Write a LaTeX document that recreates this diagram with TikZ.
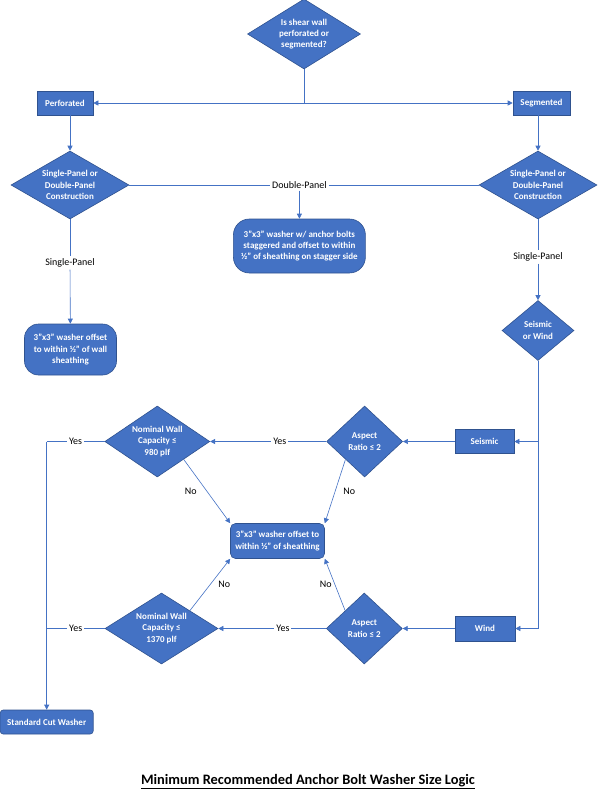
\documentclass[tikz,border=0pt]{standalone}
\usepackage{fontspec}
\setmainfont{Carlito}
\usetikzlibrary{shapes.geometric,arrows.meta}
\definecolor{ofblue}{HTML}{4472C4}
\definecolor{ofedge}{HTML}{2F528F}

\begin{document}
\begin{tikzpicture}[x=1pt,y=-1pt,
		blk/.style={fill=ofblue, draw=ofedge, line width=0.6pt, text=white, align=center, inner sep=0pt,
			font=\fontsize{9}{11.3}\selectfont\bfseries},
		dec/.style={blk, diamond, aspect=#1},
		lbl/.style={fill=white, inner sep=2pt, font=\fontsize{10}{11}\selectfont},
		link/.style={draw=ofblue, line width=0.6pt},
		arr/.style={link, -{Triangle[length=5pt,width=5pt]}}]
	\useasboundingbox (0,0) rectangle (598,800);
	\node[dec=1.6, minimum width=113, minimum height=70] (q0) at (304,34) {Is shear wall\\perforated or\\segmented?};
	\node[blk, minimum width=56, minimum height=24] (perf) at (65,103) {Perforated};
	\node[blk, minimum width=57, minimum height=24] (segm) at (541.5,103) {Segmented};
	\node[dec=1.74, minimum width=118, minimum height=68] (cons1) at (70,185) {Single-Panel or\\Double-Panel\\Construction};
	\node[dec=1.74, minimum width=118, minimum height=68] (cons2) at (538,185) {Single-Panel or\\Double-Panel\\Construction};
	\node[lbl] (dbl) at (299.4,185) {Double-Panel};
	\node[blk, rounded corners=16, minimum width=132, minimum height=54] (wash2) at (299.4,246)
		{3”x3” washer w/ anchor bolts\\staggered and offset to within\\½” of sheathing on stagger side};
	\node[lbl] (sgl1) at (70,263) {Single-Panel};
	\node[blk, rounded corners=14, minimum width=92, minimum height=51] (wash1) at (70.5,349.5)
		{3”x3” washer offset\\to within ½” of wall\\sheathing};
	\node[lbl] (sgl2) at (538,257) {Single-Panel};
	\node[dec=1.2, minimum width=72, minimum height=60] (sw) at (538,330.5) {Seismic\\or Wind};
	\node[blk, minimum width=59, minimum height=24] (seis) at (484.5,441.5) {Seismic};
	\node[dec=1.07, minimum width=76, minimum height=71] (asp1) at (364.6,441.5) {Aspect\\Ratio ≤ 2};
	\node[dec=1.48, minimum width=105, minimum height=71] (nom1) at (157.3,441.5) {Nominal Wall\\Capacity ≤\\980 plf};
	\node[blk, rounded corners=5, minimum width=94, minimum height=35] (res) at (277.5,541)
		{3”x3” washer offset to\\within ½” of sheathing};
	\node[blk, minimum width=60, minimum height=25] (wind) at (485,628.5) {Wind};
	\node[dec=1.07, minimum width=76, minimum height=71] (asp2) at (364.3,628.5) {Aspect\\Ratio ≤ 2};
	\node[dec=1.59, minimum width=113, minimum height=71] (nom2) at (161.5,628.5) {Nominal Wall\\Capacity ≤\\1370 plf};
	\node[blk, rounded corners=3, minimum width=93, minimum height=24] (std) at (46.7,722) {Standard Cut Washer};
	\node[font=\fontsize{14.4}{17}\selectfont\bfseries] (title) at (308,781.5)
		{\underline{Minimum Recommended Anchor Bolt Washer Size Logic}};

	\draw[link] (q0.south) -- (q0.south |- perf.east) coordinate (fork);
	\draw[arr] (fork) -- (perf.east);
	\draw[arr] (fork) -- (segm.west);
	\draw[arr] (perf.south -| cons1.north) -- (cons1.north);
	\draw[arr] (segm.south -| cons2.north) -- (cons2.north);
	\draw[link] (cons1.east) -- (dbl) -- (cons2.west);
	\draw[arr] (dbl) -- (wash2);
	\draw[link] (cons1.south) -- (sgl1);
	\draw[arr] (sgl1) -- (wash1);
	\draw[link] (cons2.south) -- (sgl2);
	\draw[arr] (sgl2) -- (sw);
	\foreach \b/\a/\n in {seis/asp1/nom1, wind/asp2/nom2} {
		\draw[arr] (sw.south) |- (\b.east);
		\draw[arr] (\b) -- (\a);
		\draw[arr] (\a) -- node[lbl, pos=0.4] {Yes} (\n);
		\draw[link] (\n.west) -- node[lbl] {Yes} (\n.west -| std.north);
	}
	\draw[arr] (nom1.west -| std.north) -- (std.north);
	\draw[arr] (nom1.south east) -- node[lbl, fill=none, left=8pt] {No} (res.north west);
	\draw[arr] (asp1.south west) -- node[lbl, fill=none, right=6pt] {No} (res.north east);
	\draw[arr] (nom2.north east) -- node[lbl, fill=none, right=6pt] {No} (res.south west);
	\draw[arr] (asp2.north west) -- node[lbl, fill=none, left=1pt] {No} (res.south east);
\end{tikzpicture}
\end{document}
